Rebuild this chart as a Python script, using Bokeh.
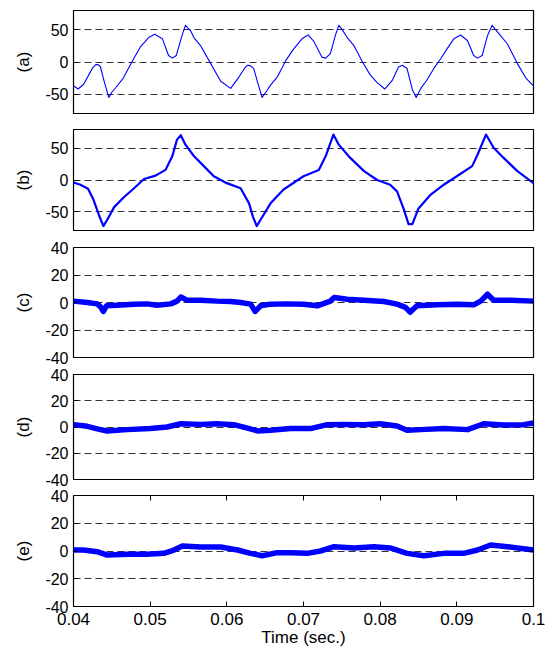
from bokeh.plotting import figure
from bokeh.layouts import column
from bokeh.models import Range1d, FixedTicker, LinearAxis, CustomJSTickFormatter
from bokeh.embed import file_html
from bokeh.resources import INLINE

# ---- data ----
x_ticks = [0.04, 0.05, 0.06, 0.07, 0.08, 0.09, 0.1]
y_ticks_ab = [-50, 0, 50]
y_ticks_cde = [-40, -20, 0, 20, 40]
panel_labels = ["(a)", "(b)", "(c)", "(d)", "(e)"]
x_label = "Time (sec.)"

ta = [0.0400, 0.0406, 0.0413, 0.0420, 0.0425, 0.0429, 0.0432, 0.0435, 0.0440, 0.0446,
      0.0450, 0.0455, 0.0465, 0.0477, 0.0487, 0.0498, 0.0506, 0.0516, 0.0524, 0.0529,
      0.0534, 0.0542, 0.0546, 0.0553, 0.0557, 0.0566, 0.0579, 0.0592, 0.0605, 0.0616,
      0.0623, 0.0627, 0.0631, 0.0635, 0.0641, 0.0646, 0.0652, 0.0657, 0.0666, 0.0677,
      0.0687, 0.0698, 0.0706, 0.0713, 0.0724, 0.0729, 0.0735, 0.0742, 0.0746, 0.0750,
      0.0757, 0.0766, 0.0777, 0.0787, 0.0796, 0.0806, 0.0816, 0.0824, 0.0829, 0.0835,
      0.0842, 0.0847, 0.0853, 0.0861, 0.0870, 0.0879, 0.0887, 0.0896, 0.0905, 0.0914,
      0.0922, 0.0927, 0.0933, 0.0940, 0.0946, 0.0950, 0.0957, 0.0966, 0.0979, 0.0990,
      0.1000]
va = [-37, -42, -35, -20, -9, -4, -4, -7, -30, -55,
      -47, -40, -25, 2, 23, 38, 43, 36, 10, 6,
      10, 43, 57, 48, 38, 25, -2.5, -30, -41, -23,
      -10, -5, -6, -10, -35, -55, -45, -36, -23, 2.5,
      20, 36, 42, 33, 7.6, 6, 13, 43, 57, 51,
      38, 25, 0, -20, -32, -42, -28, -7.6, -5, -10,
      -43, -55, -41, -28, -10, 5, 20, 36, 42, 33,
      10, 6, 10, 41, 57, 51, 41, 28, -2.5, -25,
      -37]

tb = [0.0400, 0.0409, 0.0419, 0.0426, 0.0433, 0.0439, 0.0444, 0.0453, 0.0466, 0.0479,
      0.0492, 0.0507, 0.0520, 0.0529, 0.0535, 0.0540, 0.0546, 0.0557, 0.0570, 0.0583,
      0.0600, 0.0618, 0.0629, 0.0634, 0.0639, 0.0644, 0.0657, 0.0674, 0.0700, 0.0720,
      0.0729, 0.0739, 0.0746, 0.0761, 0.0779, 0.0796, 0.0813, 0.0822, 0.0831, 0.0837,
      0.0842, 0.0850, 0.0866, 0.0883, 0.0900, 0.0920, 0.0927, 0.0938, 0.0948, 0.0961,
      0.0979, 0.1000]
vb = [-4, -7.5, -14, -31, -55, -73, -63, -43, -27, -13,
      1.6, 7, 16, 38, 64, 71, 56, 38, 22, 6,
      -5, -13, -37, -58, -73, -63, -37, -15, 6, 16,
      38, 72, 56, 35, 14, 0, -7.5, -18, -47, -70,
      -70, -45, -23, -7.5, 6, 22, 40, 72, 51, 35,
      14, -5]

tc = [0.0400, 0.0418, 0.0431, 0.0435, 0.0439, 0.0443, 0.0457, 0.0479, 0.0496, 0.0509,
      0.0527, 0.0535, 0.0540, 0.0548, 0.0566, 0.0587, 0.0605, 0.0618, 0.0631, 0.0637,
      0.0644, 0.0657, 0.0679, 0.0700, 0.0718, 0.0735, 0.0740, 0.0757, 0.0779, 0.0805,
      0.0822, 0.0833, 0.0839, 0.0848, 0.0874, 0.0901, 0.0922, 0.0931, 0.0940, 0.0948,
      0.0970, 0.1000]
vc = [1, 0, -1, -3, -6.5, -2.4, -2, -1.2, -1, -2,
      -1, 1, 4, 1.7, 1.7, 1, 0.7, 0, -1.2, -6.5,
      -2.4, -1.2, -1, -1.2, -2.4, 1, 3.6, 2.4, 1.7, 0.7,
      -1.2, -3.5, -7, -2.4, -1.7, -1.2, -1.7, 1, 6, 1.7,
      1.7, 1]

td = [0.0400, 0.0418, 0.0435, 0.0444, 0.0470, 0.0500, 0.0522, 0.0540, 0.0566, 0.0587,
      0.0609, 0.0627, 0.0640, 0.0657, 0.0683, 0.0709, 0.0731, 0.0753, 0.0779, 0.0800,
      0.0822, 0.0835, 0.0853, 0.0883, 0.0914, 0.0935, 0.0961, 0.0987, 0.1000]
vd = [1.8, 0.5, -2, -3, -2, -1.2, 0, 2.5, 2, 2.5,
      1.8, -0.8, -3, -2.5, -1.2, -1.2, 1.8, 2, 1.8, 2.5,
      0.8, -2.5, -2, -1.2, -2, 2.5, 1.5, 1.8, 3]

te = [0.0400, 0.0413, 0.0431, 0.0444, 0.0470, 0.0496, 0.0518, 0.0531, 0.0542, 0.0566,
      0.0592, 0.0614, 0.0631, 0.0646, 0.0666, 0.0683, 0.0705, 0.0722, 0.0740, 0.0766,
      0.0792, 0.0813, 0.0835, 0.0857, 0.0883, 0.0909, 0.0927, 0.0944, 0.0966, 0.1000]
ve = [0.7, 0.7, -0.5, -2.9, -2.4, -2.4, -1.7, 0.7, 3.6, 2.9,
      2.9, 0.7, -1.7, -3.4, -1.2, -1.2, -1.7, 0, 3.1, 2.2,
      3.1, 2.2, -1.7, -3.4, -1.7, -1.7, 0.7, 4.3, 3.1, 0.7]

FONT = "Liberation Sans"
FS_Y = "16px"
FS = "17px"

yfmt = "return tick.toFixed(0);"
xfmt = "return String(Number(tick.toFixed(2)));"
blank = "return '';"


def make_panel(t, v, label, yr, yticks, grid_ticks, frame_h, btop, bbot, lw, last=False):
    p = figure(frame_width=460, frame_height=frame_h,
               x_range=Range1d(0.04, 0.1), y_range=Range1d(-yr, yr),
               x_axis_location="below" if last else None,
               toolbar_location=None, output_backend="svg",
               min_border_left=73, min_border_right=12,
               min_border_top=btop, min_border_bottom=bbot)
    p.background_fill_color = "white"
    p.border_fill_color = "white"
    p.outline_line_color = "black"
    p.outline_line_width = 1.2
    p.outline_line_alpha = 1.0

    for g in p.xgrid:
        g.visible = False
    p.ygrid.ticker = FixedTicker(ticks=grid_ticks)
    p.ygrid.grid_line_color = "#333333"
    p.ygrid.grid_line_width = 1
    p.ygrid.grid_line_dash = "7 4"

    ya = p.yaxis[0]
    ya.ticker = FixedTicker(ticks=yticks)
    ya.formatter = CustomJSTickFormatter(code=yfmt)
    ya.major_label_text_font = FONT
    ya.major_label_text_font_size = FS_Y
    ya.major_label_text_color = "black"
    ya.major_tick_in = 4
    ya.major_tick_out = 0
    ya.minor_tick_line_color = None
    ya.axis_line_color = None
    ya.major_label_standoff = 5
    ya.axis_label = label
    ya.axis_label_text_font = FONT
    ya.axis_label_text_font_size = FS
    ya.axis_label_text_font_style = "normal"
    ya.axis_label_text_color = "black"
    ya.axis_label_standoff = 9

    ra = LinearAxis(ticker=FixedTicker(ticks=yticks), formatter=CustomJSTickFormatter(code=blank),
                    major_tick_in=4, major_tick_out=0, axis_line_color=None,
                    minor_tick_line_color=None, major_label_standoff=0)
    p.add_layout(ra, "right")

    if last:
        xa = p.xaxis[0]
        xa.ticker = FixedTicker(ticks=x_ticks)
        xa.formatter = CustomJSTickFormatter(code=xfmt)
        xa.major_label_text_font = FONT
        xa.major_label_text_font_size = FS
        xa.major_label_text_color = "black"
        xa.major_tick_in = 5
        xa.major_tick_out = 0
        xa.minor_tick_line_color = None
        xa.axis_line_color = None
        xa.major_label_standoff = 6
        xa.axis_label = x_label
        xa.axis_label_text_font = FONT
        xa.axis_label_text_font_size = FS
        xa.axis_label_text_font_style = "normal"
        xa.axis_label_text_color = "black"
        xa.axis_label_standoff = 0
        top_ax = LinearAxis(ticker=FixedTicker(ticks=x_ticks), formatter=CustomJSTickFormatter(code=blank),
                            major_tick_in=5, major_tick_out=0, axis_line_color=None,
                            minor_tick_line_color=None, major_label_standoff=0)
        p.add_layout(top_ax, "above")

    p.line(t, v, line_color="#0000ff", line_width=lw, line_join="round")
    return p


pa = make_panel(ta, va, panel_labels[0], 80, y_ticks_ab, y_ticks_ab, 103, 10, 8, 1.1)
pb = make_panel(tb, vb, panel_labels[1], 80, y_ticks_ab, y_ticks_ab, 101, 8, 8, 2.2)
pc = make_panel(tc, vc, panel_labels[2], 40, y_ticks_cde, [-20, 0, 20], 110, 9, 8, 5.5)
pd = make_panel(td, vd, panel_labels[3], 40, y_ticks_cde, [-20, 0, 20], 105, 9, 8, 5.5)
pe = make_panel(te, ve, panel_labels[4], 40, y_ticks_cde, [-20, 0, 20], 111, 8, 40, 5.5, last=True)

layout = column(pa, pb, pc, pd, pe, spacing=0)
open("out.html", "w").write(file_html(layout, INLINE))
